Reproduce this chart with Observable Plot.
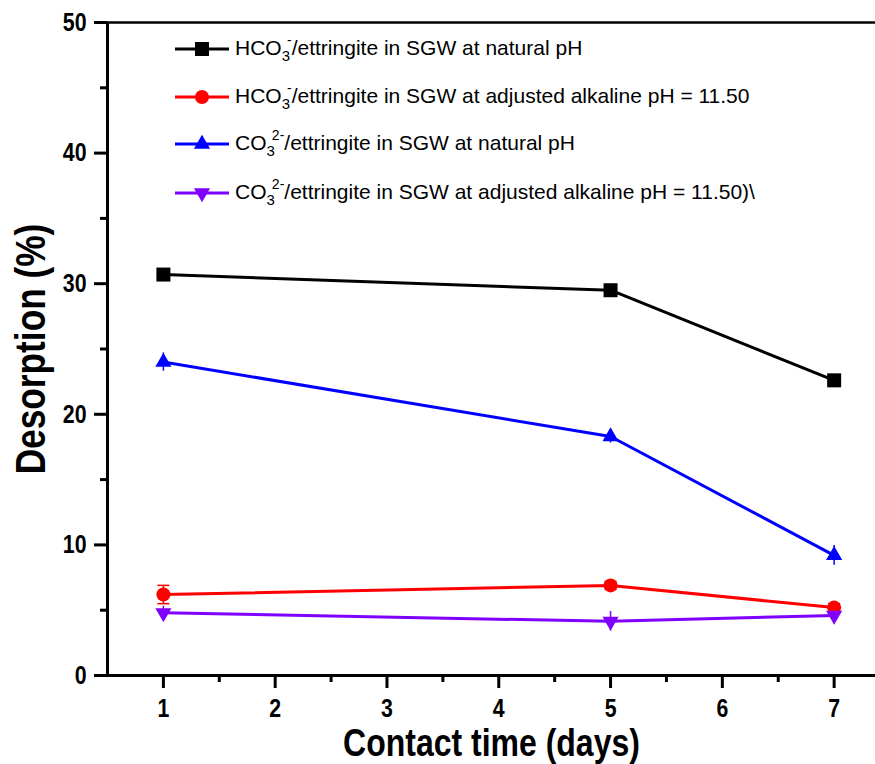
<!DOCTYPE html>
<html>
<head>
<meta charset="utf-8">
<script src="https://cdn.jsdelivr.net/npm/d3@7"></script>
<script src="https://cdn.jsdelivr.net/npm/@observablehq/plot@0.6"></script>
<style>
  html, body { margin: 0; padding: 0; background: #fff; }
  #wrap { position: relative; width: 875px; height: 764px; font-family: "Liberation Sans", Arial, sans-serif; }
  #legend { position: absolute; left: 0; top: 0; }
  .row { position: absolute; left: 174px; height: 30px; display: flex; align-items: center; white-space: nowrap; }
  .row svg { display: block; }
  .lab { font-size: 21px; color: #000; margin-left: 5px; line-height: 30px; }
  .sb { font-size: 15px; position: relative; top: 6px; }
  .sp { font-size: 14px; position: relative; top: -10px; margin-left: -3px; }
</style>
</head>
<body>
<div id="wrap"></div>
<script>
// ---- data ----
const days = [1, 5, 7];
const seriesNames = [
  "HCO3-/ettringite in SGW at natural pH",
  "HCO3-/ettringite in SGW at adjusted alkaline pH = 11.50",
  "CO32-/ettringite in SGW at natural pH",
  "CO32-/ettringite in SGW at adjusted alkaline pH = 11.50)\\"
];
const hco3Natural  = [30.7, 29.5, 22.6];
const hco3Alkaline = [6.2, 6.9, 5.2];
const co3Natural   = [24.0, 18.3, 9.2];
const co3Alkaline  = [4.8, 4.15, 4.6];
const hco3NaturalErr  = [0.3, 0.3, 0.3];
const hco3AlkalineErr = [0.7, 0.3, 0.3];
const co3NaturalErr   = [0.7, 0.5, 0.75];
const co3AlkalineErr  = [0.5, 0.75, 0.5];
const xTicks = [1, 2, 3, 4, 5, 6, 7];
const xMinorTicks = [1.5, 2.5, 3.5, 4.5, 5.5, 6.5];
const yTicks = [0, 10, 20, 30, 40, 50];
const yMinorTicks = [5, 15, 25, 35, 45];
const xTitle = "Contact time (days)";
const yTitle = "Desorption (%)";

// styles
const colors = ["#000000", "#ff0000", "#0000ff", "#7f00ff"];
const symbols = ["square", "circle", "triangle", "triangle"];
const rotations = [0, 0, 0, 180];
const radii = [7.9, 7, 6, 6];
const values = [hco3Natural, hco3Alkaline, co3Natural, co3Alkaline];
const errs = [hco3NaturalErr, hco3AlkalineErr, co3NaturalErr, co3AlkalineErr];

const table = [];
values.forEach((vals, s) => vals.forEach((v, i) => table.push({
  series: s, name: seriesNames[s], day: days[i], value: v, err: errs[s][i]
})));

const hline = { draw(ctx, size) { const w = Math.sqrt(size); ctx.moveTo(-w, 0); ctx.lineTo(w, 0); } };

const font = "Liberation Sans, Arial, sans-serif";
const marks = [];
// error bars
marks.push(Plot.ruleX(table, {x: "day", y1: d => d.value - d.err, y2: d => d.value + d.err, stroke: d => colors[d.series], strokeWidth: 1.5}));
const capped = table.filter(d => d.series === 1);
marks.push(Plot.dot(capped, {x: "day", y: d => d.value + d.err, symbol: hline, r: 3.4, stroke: d => colors[d.series], strokeWidth: 1.5}));
marks.push(Plot.dot(capped, {x: "day", y: d => d.value - d.err, symbol: hline, r: 3.4, stroke: d => colors[d.series], strokeWidth: 1.5}));
// lines & markers
for (let s = 0; s < 4; s++) {
  const data = table.filter(d => d.series === s);
  marks.push(Plot.line(data, {x: "day", y: "value", stroke: colors[s], strokeWidth: 3}));
  marks.push(Plot.dot(data, {x: "day", y: "value", symbol: symbols[s], r: radii[s], rotate: rotations[s], fill: colors[s], stroke: "none"}));
}
// axes
marks.push(Plot.axisY(yTicks, {tickSize: 13, tickPadding: 8, strokeWidth: 3, fontSize: 26, fontWeight: "bold", label: null, fill: "#000"}));
marks.push(Plot.axisY(yMinorTicks, {tickSize: 7, strokeWidth: 3, text: null, label: null}));
marks.push(Plot.axisX(xTicks, {tickSize: 13, tickPadding: 10, strokeWidth: 3, fontSize: 26, fontWeight: "bold", label: null, fill: "#000"}));
marks.push(Plot.axisX(xMinorTicks, {tickSize: 7, strokeWidth: 3, text: null, label: null}));
marks.push(Plot.ruleY([0], {strokeWidth: 3}));
marks.push(Plot.ruleX([0.5], {strokeWidth: 3}));
marks.push(Plot.ruleY([50], {strokeWidth: 2.5}));
// titles
marks.push(Plot.text([xTitle], {frameAnchor: "bottom", textAnchor: "middle", lineAnchor: "middle", text: d => d, dy: 68, fontSize: 39, fontWeight: "bold", fill: "#000"}));
marks.push(Plot.text([yTitle], {frameAnchor: "left", textAnchor: "middle", lineAnchor: "middle", text: d => d, rotate: -90, dx: -76, fontSize: 43, fontWeight: "bold", fill: "#000"}));

const chart = Plot.plot({
  width: 875,
  height: 764,
  marginLeft: 107,
  marginRight: 0,
  marginTop: 22,
  marginBottom: 89,
  style: {fontFamily: font, background: "#fff", overflow: "visible"},
  x: {domain: [0.5, 7.37]},
  y: {domain: [0, 50]},
  marks
});
const wrap = document.getElementById("wrap");
wrap.appendChild(chart);

// condense the axis texts horizontally (reference uses a narrow bold face)
chart.querySelectorAll("text").forEach(t => {
  const len = t.getComputedTextLength();
  if (len > 0) {
    t.setAttribute("textLength", (len * 0.82).toFixed(2));
    t.setAttribute("lengthAdjust", "spacingAndGlyphs");
  }
});

// legend overlay
const legend = document.createElement("div");
legend.id = "legend";
wrap.appendChild(legend);
const rowCenters = [49, 97, 144, 193];
function esc(t) { return t.replace(/&/g, "&amp;").replace(/</g, "&lt;"); }
function labelHTML(name) {
  const m = name.match(/^(HCO|CO)3(2-|-)(.*)$/);
  return '<span>' + m[1] + '</span><span class="sb">3</span><span class="sp">' + m[2] + '</span><span>' + esc(m[3]) + '</span>';
}
seriesNames.forEach((name, s) => {
  const row = document.createElement("div");
  row.className = "row";
  row.style.top = (rowCenters[s] - 15) + "px";
  const svg = d3.create("svg").attr("width", 56).attr("height", 30);
  svg.append("line").attr("x1", 1).attr("x2", 55).attr("y1", 15).attr("y2", 15).attr("stroke", colors[s]).attr("stroke-width", 3);
  const sym = {square: d3.symbolSquare, circle: d3.symbolCircle, triangle: d3.symbolTriangle}[symbols[s]];
  svg.append("path").attr("d", d3.symbol(sym, Math.PI * radii[s] * radii[s])())
    .attr("transform", `translate(28,15) rotate(${rotations[s]})`).attr("fill", colors[s]);
  row.appendChild(svg.node());
  const lab = document.createElement("span");
  lab.className = "lab";
  lab.innerHTML = labelHTML(name);
  row.appendChild(lab);
  legend.appendChild(row);
});
</script>
</body>
</html>
